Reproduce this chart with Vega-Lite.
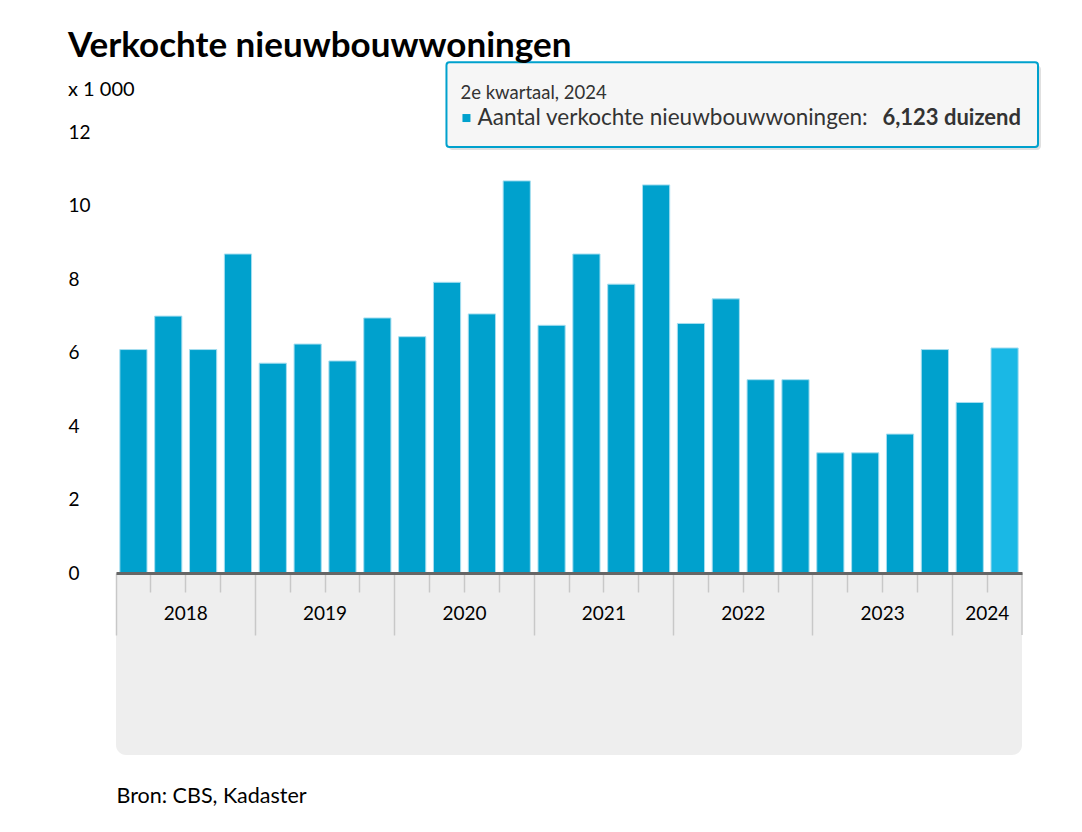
{
  "$schema": "https://vega.github.io/schema/vega-lite/v6.json",
  "width": 906,
  "height": 441,
  "autosize": {"type": "none"},
  "padding": {"left": 116, "top": 132, "right": 60, "bottom": 259},
  "background": "white",
  "config": {"view": {"stroke": null}, "font": "Lato"},
  "title": {
    "text": "Verkochte nieuwbouwwoningen",
    "subtitle": "x 1 000",
    "anchor": "start",
    "frame": "bounds",
    "font": "Lato",
    "fontSize": 35,
    "fontWeight": "bold",
    "color": "#000",
    "subtitleFont": "Lato",
    "subtitleFontSize": 20,
    "subtitleColor": "#000",
    "subtitlePadding": 16,
    "offset": -39
  },
  "data": {
    "values": [
      {"kw": "2018-K1", "waarde": 6.08},
      {"kw": "2018-K2", "waarde": 6.99},
      {"kw": "2018-K3", "waarde": 6.08},
      {"kw": "2018-K4", "waarde": 8.68},
      {"kw": "2019-K1", "waarde": 5.71},
      {"kw": "2019-K2", "waarde": 6.23},
      {"kw": "2019-K3", "waarde": 5.77},
      {"kw": "2019-K4", "waarde": 6.94},
      {"kw": "2020-K1", "waarde": 6.43},
      {"kw": "2020-K2", "waarde": 7.91},
      {"kw": "2020-K3", "waarde": 7.05},
      {"kw": "2020-K4", "waarde": 10.67},
      {"kw": "2021-K1", "waarde": 6.74},
      {"kw": "2021-K2", "waarde": 8.68},
      {"kw": "2021-K3", "waarde": 7.86},
      {"kw": "2021-K4", "waarde": 10.56},
      {"kw": "2022-K1", "waarde": 6.79},
      {"kw": "2022-K2", "waarde": 7.46},
      {"kw": "2022-K3", "waarde": 5.26},
      {"kw": "2022-K4", "waarde": 5.26},
      {"kw": "2023-K1", "waarde": 3.27},
      {"kw": "2023-K2", "waarde": 3.27},
      {"kw": "2023-K3", "waarde": 3.78},
      {"kw": "2023-K4", "waarde": 6.08},
      {"kw": "2024-K1", "waarde": 4.64},
      {"kw": "2024-K2", "waarde": 6.123}
    ]
  },
  "layer": [
    {
      "data": {"values": [{}]},
      "mark": {"type": "rect", "fill": "#eeeeee", "cornerRadiusBottomLeft": 10, "cornerRadiusBottomRight": 10},
      "encoding": {
        "y": {"datum": 0, "type": "quantitative"},
        "y2": {"datum": -4.95}
      }
    },
    {
      "mark": {"type": "bar", "width": {"band": 0.78}, "stroke": "#a6def0", "strokeWidth": 1},
      "encoding": {
        "x": {
          "field": "kw",
          "type": "nominal",
          "sort": null,
          "scale": {"paddingInner": 0, "paddingOuter": 0},
          "axis": {
            "bandPosition": 0,
            "domainColor": "#666666",
            "domainWidth": 3,
            "tickColor": "#c8c8c8",
            "tickWidth": 1.5,
            "tickSize": {"condition": {"test": "slice(datum.value, 5) === 'K1'", "value": 62}, "value": 19},
            "labelExpr": "datum.value === '2024-K2' ? '2024' : (slice(datum.value, 5) === 'K3' ? slice(datum.value, 0, 4) : '')",
            "labelOffset": -17.4,
            "labelAngle": 0,
            "labelFontSize": 19,
            "labelColor": "#000",
            "labelPadding": 12,
            "labelOverlap": false,
            "labelFlush": false,
            "labelBound": false,
            "grid": false,
            "zindex": 1,
            "title": "Bron: CBS, Kadaster",
            "titleAnchor": "start",
            "titleAlign": "left",
            "titleX": 0,
            "titleY": 229,
            "titleBaseline": "alphabetic",
            "titleFontSize": 21.5,
            "titleFontWeight": "normal",
            "titleColor": "#000"
          }
        },
        "y": {
          "field": "waarde",
          "type": "quantitative",
          "scale": {"domain": [0, 12], "nice": false},
          "axis": {
            "values": [0, 2, 4, 6, 8, 10, 12],
            "domain": false,
            "ticks": false,
            "labelAlign": "left",
            "labelPadding": 48,
            "labelFontSize": 19,
            "labelColor": "#000",
            "gridColor": "#cfcfcf",
            "gridWidth": 1,
            "title": null,
            "zindex": 0
          }
        },
        "color": {
          "condition": {"test": "datum.kw === '2024-K2'", "value": "#1ab8e5"},
          "value": "#00a1cd"
        }
      }
    },
    {
      "data": {"values": [{}]},
      "mark": {"type": "rule", "color": "#c8c8c8", "strokeWidth": 1.5},
      "encoding": {
        "x": {"datum": "2024-K2", "type": "nominal", "bandPosition": 1},
        "y": {"datum": 0, "type": "quantitative"},
        "y2": {"datum": -1.69}
      }
    },
    {
      "data": {"values": [{}]},
      "mark": {"type": "rect", "fill": "#000000", "fillOpacity": 0.12, "cornerRadius": 4, "xOffset": -16, "x2Offset": 19, "yOffset": 3, "y2Offset": 3},
      "encoding": {
        "x": {"datum": "2020-K3", "type": "nominal", "bandPosition": 0},
        "x2": {"datum": "2024-K2", "bandPosition": 1},
        "y": {"datum": 13.9, "type": "quantitative"},
        "y2": {"datum": 11.59}
      }
    },
    {
      "data": {"values": [{}]},
      "mark": {"type": "rect", "fill": "#f7f7f7", "fillOpacity": 0.97, "stroke": "#00a1cd", "strokeWidth": 2, "cornerRadius": 3, "xOffset": -18, "x2Offset": 16},
      "encoding": {
        "x": {"datum": "2020-K3", "type": "nominal", "bandPosition": 0},
        "x2": {"datum": "2024-K2", "bandPosition": 1},
        "y": {"datum": 13.9, "type": "quantitative"},
        "y2": {"datum": 11.59}
      }
    },
    {
      "data": {"values": [{}]},
      "mark": {"type": "text", "align": "left", "baseline": "alphabetic", "dx": -4, "fontSize": 18.5, "color": "#333333", "text": "2e kwartaal, 2024"},
      "encoding": {
        "x": {"datum": "2020-K3", "type": "nominal", "bandPosition": 0},
        "y": {"datum": 12.9, "type": "quantitative"}
      }
    },
    {
      "data": {"values": [{}]},
      "mark": {"type": "point", "shape": "square", "filled": true, "size": 64, "color": "#00a1cd", "opacity": 1, "xOffset": 2},
      "encoding": {
        "x": {"datum": "2020-K3", "type": "nominal", "bandPosition": 0},
        "y": {"datum": 12.38, "type": "quantitative"}
      }
    },
    {
      "data": {"values": [{}]},
      "mark": {"type": "text", "align": "left", "baseline": "alphabetic", "dx": 13, "fontSize": 22.5, "color": "#333333", "text": "Aantal verkochte nieuwbouwwoningen:"},
      "encoding": {
        "x": {"datum": "2020-K3", "type": "nominal", "bandPosition": 0},
        "y": {"datum": 12.18, "type": "quantitative"}
      }
    },
    {
      "data": {"values": [{}]},
      "mark": {"type": "text", "align": "right", "baseline": "alphabetic", "dx": -1, "fontSize": 22, "fontWeight": "bold", "color": "#333333", "text": "6,123 duizend"},
      "encoding": {
        "x": {"datum": "2024-K2", "type": "nominal", "bandPosition": 1},
        "y": {"datum": 12.18, "type": "quantitative"}
      }
    }
  ]
}
